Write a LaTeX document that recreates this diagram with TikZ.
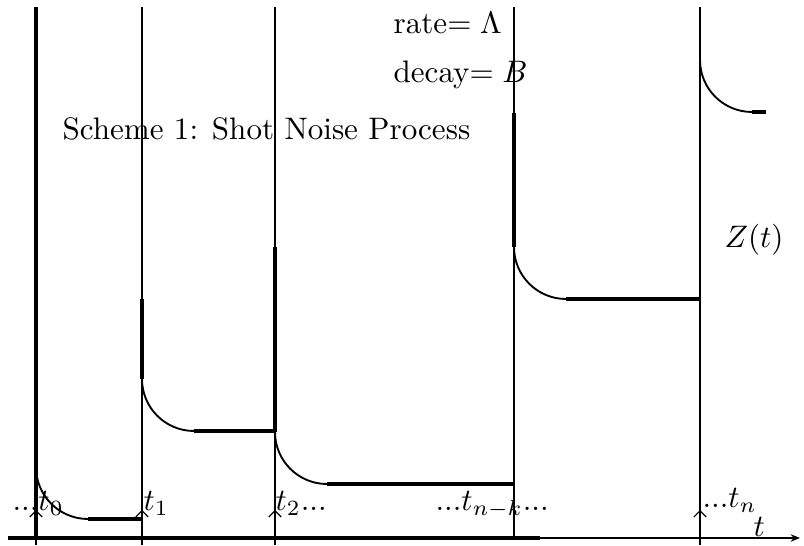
\documentclass[tikz,border=0pt]{standalone}
\usepackage{tikz}
\usetikzlibrary{arrows.meta}
\tikzset{%
  eventline/.style={line width=0.6pt},
  jumpline/.style={line width=1.1pt},
  plateau/.style={line width=1.1pt},
  decaycurve/.style={line width=0.6pt},
  eventtick/.style={line width=0.35pt, -{Straight Barb[length=2pt,width=4pt]}},
  timeaxis/.style={line width=1.1pt},
}

\begin{document}
\begin{tikzpicture}[x=0.0113cm, y=0.0113cm]
    \useasboundingbox (0,0) rectangle (804,546);

    % event times, top and bottom of each line
    \foreach \name/\xx in {T0/36, T1/142, T2/275, Tk/514, Tn/700} {
        \coordinate (\name t) at (\xx,539);
        \coordinate (\name b) at (\xx,8);
    }
    \coordinate (A0) at (8,8);
    \coordinate (A1) at (540,8);
    \coordinate (A2) at (800,8);

    %time axis
    \draw[timeaxis] (A0) -- (A1);
    \draw[line width=0.6pt, -{Stealth[length=3pt,width=2.4pt]}] (A1) -- (A2);

    %vertical lines at the events
    \draw[line width=1pt] (T0t) -- (T0b);
    \draw[eventline] (T1t) -- (T1b);
    \draw[eventline] (T2t) -- (T2b);
    \draw[eventline] (Tkt) -- (Tkb);
    \draw[eventline] (Tnt) -- (Tnb);

    % small arrows under the events
    \foreach \name in {T0, T1, T2, Tn} {
        \draw[eventtick] (\name b) ++(0,-7) coordinate (\name s) -- ++(0,35);
    }

    % jumps, decay and plateaus
    \coordinate (J0) at (36,79);
    \draw[decaycurve] (J0) arc[start angle=180, end angle=270, radius=52] coordinate (D0);
    \draw[plateau] (D0) -- (T1b |- D0);

    \coordinate (J1a) at (142,247);
    \coordinate (J1) at (142,167);
    \draw[jumpline] (J1a) -- (J1);
    \draw[decaycurve] (J1) arc[start angle=180, end angle=270, radius=52] coordinate (D1);
    \draw[plateau] (D1) -- (T2b |- D1);

    \coordinate (J2a) at (275,299);
    \coordinate (J2) at (275,114);
    \draw[jumpline] (J2a) -- (J2);
    \draw[decaycurve] (J2) arc[start angle=180, end angle=270, radius=52] coordinate (D2);
    \draw[plateau] (D2) -- (Tkb |- D2);

    \coordinate (Jka) at (514,433);
    \coordinate (Jk) at (514,299);
    \draw[jumpline] (Jka) -- (Jk);
    \draw[decaycurve] (Jk) arc[start angle=180, end angle=270, radius=52] coordinate (Dk);
    \draw[plateau] (Dk) -- (Tnb |- Dk);

    \coordinate (Jn) at (700,486);
    \draw[decaycurve] (Jn) arc[start angle=180, end angle=270, radius=52] coordinate (Dn);
    \draw[plateau] (Dn) -- ++(14,0);

    % labels
    \node[anchor=base west, inner sep=0pt] (l0) at (12,35) {$...t_0$};
    \node[anchor=base west, inner sep=0pt] (l1) at (143,35) {$t_1$};
    \node[anchor=base west, inner sep=0pt] (l2) at (275,35) {$t_2...$};
    \node[anchor=base west, inner sep=0pt] (lk) at (435,35) {$...t_{n-k}...$};
    \node[anchor=base west, inner sep=0pt] (ln) at (702,38) {$...t_n$};
    \node[anchor=base west, inner sep=0pt] (lt) at (753,9) {$t$};
    \node (zt) at (754,306) {$Z(t)$};
    \node[anchor=base west, inner sep=0pt] (rate) at (393,512) {rate$=\Lambda$};
    \node[anchor=base west, inner sep=0pt] (decay) at (393,463) {decay$=B$};
    \node[anchor=base west, inner sep=0pt] (title) at (62,406) {Scheme 1: Shot Noise Process};
\end{tikzpicture}
\end{document}
